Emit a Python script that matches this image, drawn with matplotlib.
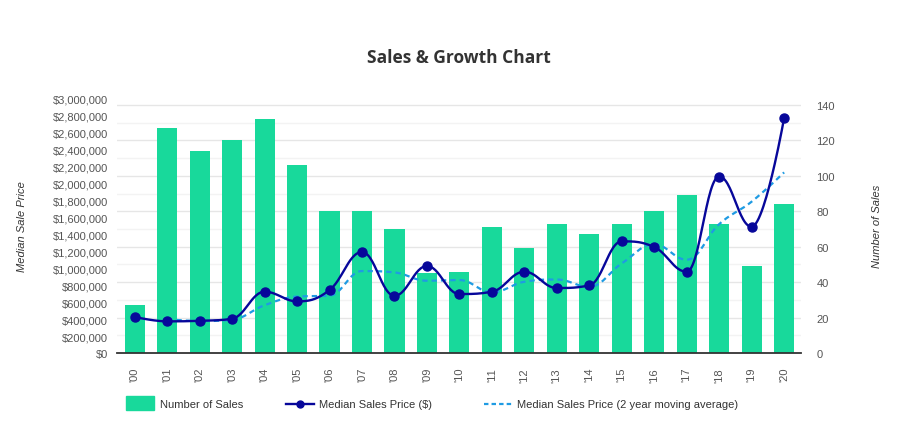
import numpy as np
import matplotlib
matplotlib.use("Agg")
import matplotlib.pyplot as plt
from matplotlib.patches import Rectangle
from matplotlib.lines import Line2D

# ---- data ----
years = ["'00", "'01", "'02", "'03", "'04", "'05", "'06", "'07", "'08", "'09", "'10",
         "'11", "'12", "'13", "'14", "'15", "'16", "'17", "'18", "'19", "'20"]
num_sales = [27, 127, 114, 120, 132, 106, 80, 80, 70, 45, 46,
             71, 59, 73, 67, 73, 80, 89, 73, 49, 84]
median_price = [425000, 373000, 380000, 404000, 722000, 609000, 742000, 1190000, 675000,
                1025000, 695000, 722000, 958000, 766000, 797000, 1316000, 1249000,
                958000, 2080000, 1488000, 2770000]
moving_avg = [None, 399000, 377000, 392000, 563000, 665000, 676000, 966000, 950000,
              852000, 860000, 715000, 840000, 866000, 781000, 1056000, 1282000,
              1100000, 1519000, 1784000, 2129000]
left_ticks = list(range(0, 3000001, 200000))
right_ticks = list(range(0, 141, 20))

BAR = "#18d99b"
LINE = "#07079a"
DASH = "#1f9be3"
TXT = "#555555"

W, H = 904, 435


def fx(px):
    return px / W


def fy(py):
    return 1 - py / H


def smooth(xs, ys, n=30):
    """Highcharts-style spline through the given points (drawing only)."""
    xs = np.asarray(xs, float)
    ys = np.asarray(ys, float)
    m = len(xs)
    s, d = 1.5, 2.5
    lcx, lcy = xs.copy(), ys.copy()
    rcx, rcy = xs.copy(), ys.copy()
    for i in range(1, m - 1):
        lx, ly, nx, ny, px, py = xs[i-1], ys[i-1], xs[i+1], ys[i+1], xs[i], ys[i]
        a = (s*px + lx)/d; b = (s*py + ly)/d
        c = (s*px + nx)/d; e = (s*py + ny)/d
        if c != a:
            corr = ((e - b)*(c - px))/(c - a) + py - e
            b += corr; e += corr
        if b > ly and b > py:
            b = max(ly, py); e = 2*py - b
        elif b < ly and b < py:
            b = min(ly, py); e = 2*py - b
        if e > ny and e > py:
            e = max(ny, py); b = 2*py - e
        elif e < ny and e < py:
            e = min(ny, py); b = 2*py - e
        lcx[i], lcy[i], rcx[i], rcy[i] = a, b, c, e
    ox, oy = [xs[0]], [ys[0]]
    t = np.linspace(0, 1, n)[1:]
    for i in range(1, m):
        p0 = np.array([xs[i-1], ys[i-1]]); p1 = np.array([rcx[i-1], rcy[i-1]])
        p2 = np.array([lcx[i], lcy[i]]); p3 = np.array([xs[i], ys[i]])
        pts = (((1-t)**3)[:, None]*p0 + (3*(1-t)**2*t)[:, None]*p1
               + (3*(1-t)*t**2)[:, None]*p2 + (t**3)[:, None]*p3)
        ox.extend(pts[:, 0]); oy.extend(pts[:, 1])
    return np.array(ox), np.array(oy)


plt.rcParams['font.family'] = ['Liberation Sans', 'DejaVu Sans']
fig = plt.figure(figsize=(W/100, H/100), dpi=100)
fig.patch.set_facecolor("white")

ax_l, ax_b, ax_r, ax_t = 117, 354, 801, 99.5
ax = fig.add_axes([fx(ax_l), fy(ax_b), fx(ax_r) - fx(ax_l), fy(ax_t) - fy(ax_b)])
ax2 = ax.twinx()
ax.set_zorder(ax2.get_zorder() + 1)
ax.patch.set_visible(False)

x = np.arange(len(years))

# bars on right axis
ax2.bar(x, num_sales, width=0.62, color=BAR, zorder=3)
ax2.set_ylim(0, 140 * (ax_b - ax_t) / (ax_b - 106))
ax2.set_yticks(right_ticks)
ax2.set_yticks(list(range(10, 141, 20)), minor=True)
ax2.grid(axis='y', which='major', color='#e6e6e6', lw=1, zorder=0)
ax2.grid(axis='y', which='minor', color='#f3f3f3', lw=1, zorder=0)
ax2.tick_params(axis='y', which='both', length=0, pad=11, labelsize=8, labelcolor=TXT)
ax2.set_yticklabels([str(v) for v in right_ticks])
ax2.set_ylabel("Number of Sales", fontsize=8, style='italic', color='#333333')
ax2.yaxis.set_label_coords((877 - ax_l) / (ax_r - ax_l), 0.5)
ax2.yaxis.label.set_verticalalignment('center')

# lines on left axis
sx, sy = smooth(x, median_price)
ax.plot(sx, sy, color=LINE, lw=1.7, zorder=5, solid_capstyle='round')
ax.plot(x, median_price, 'o', color=LINE, ms=6.5, zorder=6)
mx = [i for i, v in enumerate(moving_avg) if v is not None]
my = [v for v in moving_avg if v is not None]
dx, dy = smooth(mx, my)
ax.plot(dx, dy, color=DASH, lw=1.6, dashes=(2.4, 1.8), zorder=4)

ax.set_ylim(0, 3000000)
ax.set_yticks(left_ticks)
ax.set_yticklabels(["${:,}".format(v) for v in left_ticks])
ax.tick_params(axis='y', length=0, pad=6.5, labelsize=8, labelcolor=TXT)
ax.set_ylabel("Median Sale Price", fontsize=8, style='italic', color='#333333')
ax.yaxis.set_label_coords((22 - ax_l) / (ax_r - ax_l), 0.5)
ax.yaxis.label.set_verticalalignment('center')

ax.set_xlim(-0.545, 20.52)
ax.set_xticks(x)
ax.set_xticklabels(years, rotation=90)
ax.tick_params(axis='x', length=0, pad=10, labelsize=8, labelcolor=TXT)

for a in (ax, ax2):
    for sp in ('top', 'left', 'right'):
        a.spines[sp].set_visible(False)
ax2.spines['bottom'].set_visible(False)
ax.spines['bottom'].set_color('#333333')
ax.spines['bottom'].set_linewidth(1.3)

# title
fig.text(fx(459), fy(58), "Sales & Growth Chart", ha='center', va='center',
         fontsize=12.5, fontweight='bold', color='#333333',
         family=['Open Sans', 'DejaVu Sans'])

# legend (manual)
ly = fy(405)
fig.add_artist(Rectangle((fx(126), fy(410.5)), fx(153.5) - fx(126), fy(397) - fy(410.5),
                         transform=fig.transFigure, color=BAR))
fig.text(fx(159.5), ly, "Number of Sales", fontsize=8, color='#333333', va='center')
fig.add_artist(Line2D([fx(286), fx(314)], [ly, ly], transform=fig.transFigure,
                      color=LINE, lw=1.7))
fig.add_artist(Line2D([fx(300)], [ly], transform=fig.transFigure, color=LINE,
                      marker='o', ms=5))
fig.text(fx(319), ly, "Median Sales Price ($)", fontsize=8, color='#333333', va='center')
fig.add_artist(Line2D([fx(484), fx(512)], [ly, ly], transform=fig.transFigure,
                      color=DASH, lw=1.6, dashes=(2.0, 1.4)))
fig.text(fx(516.7), ly, "Median Sales Price (2 year moving average)", fontsize=8,
         color='#333333', va='center')

fig.savefig("out.png", dpi=100)
